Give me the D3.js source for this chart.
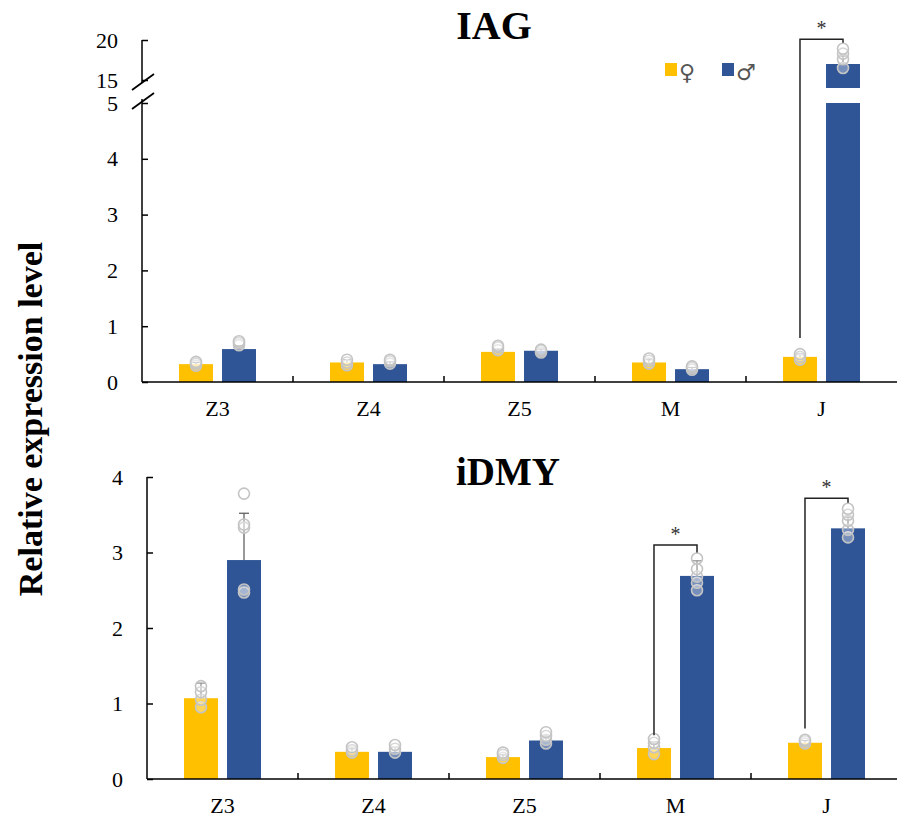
<!DOCTYPE html>
<html>
<head>
<meta charset="utf-8">
<script src="https://cdn.jsdelivr.net/npm/d3@7/dist/d3.min.js"></script>
<style>
  body { margin: 0; background: #fff; }
  svg { display: block; }
</style>
</head>
<body>
<svg id="chart" width="897" height="819"></svg>
<script>
// categories and groups
const categories = ["Z3", "Z4", "Z5", "M", "J"];
const sexes = ["F", "M"];

// IAG (top panel) means, sd and replicate points
const iagFemale = [0.32, 0.35, 0.54, 0.35, 0.45];
const iagMale = [0.59, 0.32, 0.56, 0.23, 17.0];
const iagFemaleSd = [0.03, 0.05, 0.05, 0.05, 0.05];
const iagMaleSd = [0.06, 0.04, 0.03, 0.03, 1.0];
const iagFemalePts = [[0.29, 0.33, 0.36], [0.3, 0.35, 0.4], [0.57, 0.62, 0.65], [0.33, 0.38, 0.42], [0.4, 0.45, 0.5]];
const iagMalePts = [[0.66, 0.7, 0.73], [0.33, 0.37, 0.4], [0.53, 0.56, 0.58], [0.22, 0.25, 0.28], [16.5, 17.6, 18.3, 18.9]];

// iDMY (bottom panel)
const dmyFemale = [1.07, 0.36, 0.29, 0.41, 0.48];
const dmyMale = [2.9, 0.36, 0.51, 2.69, 3.32];
const dmyFemaleSd = [0.2, 0.04, 0.03, 0.08, 0.03];
const dmyMaleSd = [0.62, 0.06, 0.06, 0.2, 0.15];
const dmyFemalePts = [[0.95, 1.05, 1.15, 1.23], [0.35, 0.38, 0.42], [0.28, 0.32, 0.35], [0.33, 0.42, 0.48, 0.53], [0.47, 0.5, 0.52]];
const dmyMalePts = [[2.47, 2.51, 3.33, 3.37, 3.78], [0.35, 0.4, 0.45], [0.47, 0.52, 0.57, 0.62], [2.5, 2.6, 2.68, 2.78, 2.92], [3.2, 3.3, 3.42, 3.5, 3.58]];

// y ticks
const iagLowTicks = [0, 1, 2, 3, 4, 5];
const iagHighTicks = [15, 20];
const dmyTicks = [0, 1, 2, 3, 4];

// significance brackets: category, bracket top, left leg end
const iagSig = [{ cat: "J", top: 20.1, left: 0.79 }];
const dmySig = [{ cat: "M", top: 3.1, left: 0.58 }, { cat: "J", top: 3.72, left: 0.67 }];

const colF = "#FFC000";
const colM = "#2F5597";
const serif = "'Liberation Serif', 'Times New Roman', serif";

const svg = d3.select("#chart");

function xScales(x0) {
  const x = d3.scaleBand().domain(categories).range([x0, x0 + 151 * categories.length]).padding(0);
  const xs = d3.scaleBand().domain(sexes).range([37, 114]).paddingInner(0.21);
  return { x, xs };
}

function drawXAxis(g, x, y0) {
  g.append("line")
    .attr("x1", x.range()[0]).attr("x2", x.range()[1])
    .attr("y1", y0).attr("y2", y0)
    .attr("stroke", "#000").attr("stroke-width", 1.5);
  g.selectAll(".xtick")
    .data(categories.slice(1))
    .enter().append("line")
    .attr("x1", d => x(d)).attr("x2", d => x(d))
    .attr("y1", y0).attr("y2", y0 - 6)
    .attr("stroke", "#000").attr("stroke-width", 1.5);
  g.selectAll(".xlab")
    .data(categories)
    .enter().append("text")
    .text(d => d)
    .attr("x", d => x(d) + x.bandwidth() / 2)
    .attr("y", y0 + 34)
    .attr("text-anchor", "middle")
    .attr("font-family", serif)
    .attr("font-size", 22)
    .attr("fill", "#000");
}

function yAxis(g, y, ticks, axisX) {
  const ax = g.append("g")
    .attr("transform", `translate(${axisX},0)`)
    .call(d3.axisLeft(y).tickValues(ticks).tickFormat(d3.format("d"))
      .tickSize(-6).tickSizeOuter(0).tickPadding(24));
  ax.attr("font-family", serif).attr("font-size", 22);
  ax.select(".domain").remove();
  ax.selectAll("line").attr("stroke", "#000").attr("stroke-width", 1.5);
  ax.selectAll("text").attr("fill", "#000");
}

function drawPoints(g, cx, pts, y) {
  g.selectAll(null)
    .data(pts)
    .enter().append("circle")
    .attr("cx", cx)
    .attr("cy", d => y(d))
    .attr("r", 5.5)
    .attr("fill", "rgba(255,255,255,0.35)")
    .attr("stroke", "#c4c4c4")
    .attr("stroke-width", 1.6);
}

function drawErr(g, cx, mean, sd, y) {
  g.append("line")
    .attr("x1", cx).attr("x2", cx)
    .attr("y1", y(mean)).attr("y2", y(mean + sd))
    .attr("stroke", "#555").attr("stroke-width", 1.2);
  g.append("line")
    .attr("x1", cx - 5).attr("x2", cx + 5)
    .attr("y1", y(mean + sd)).attr("y2", y(mean + sd))
    .attr("stroke", "#555").attr("stroke-width", 1.2);
}

function drawBracket(g, x1, x2, yTop, yLeft, yRight) {
  g.append("path")
    .attr("d", `M${x1},${yLeft}V${yTop}H${x2}V${yRight}`)
    .attr("fill", "none")
    .attr("stroke", "#222")
    .attr("stroke-width", 1.5);
  g.append("text")
    .text("*")
    .attr("x", (x1 + x2) / 2)
    .attr("y", yTop - 4)
    .attr("text-anchor", "middle")
    .attr("font-family", serif)
    .attr("font-size", 20)
    .attr("fill", "#333");
}

// ---------------- top panel: IAG ----------------
{
  const axisX = 142;
  const { x, xs } = xScales(axisX);
  const yLow = d3.scaleLinear().domain([0, 5]).range([382, 103]);
  const yHigh = d3.scaleLinear().domain([15, 20]).range([80, 40]);
  const yAny = v => (v > 5 ? yHigh(v) : yLow(v));
  const g = svg.append("g");

  // bars (male J is split across the break)
  categories.forEach((c, i) => {
    [[iagFemale[i], "F", colF], [iagMale[i], "M", colM]].forEach(([v, s, col]) => {
      const bx = x(c) + xs(s);
      if (v > 5) {
        g.append("rect").attr("x", bx).attr("width", xs.bandwidth())
          .attr("y", yHigh(v)).attr("height", yHigh(14) - yHigh(v)).attr("fill", col);
        g.append("rect").attr("x", bx).attr("width", xs.bandwidth())
          .attr("y", yLow(5)).attr("height", yLow(0) - yLow(5)).attr("fill", col);
      } else {
        g.append("rect").attr("x", bx).attr("width", xs.bandwidth())
          .attr("y", yLow(v)).attr("height", yLow(0) - yLow(v)).attr("fill", col);
      }
    });
  });

  categories.forEach((c, i) => {
    const cf = x(c) + xs("F") + xs.bandwidth() / 2;
    const cm = x(c) + xs("M") + xs.bandwidth() / 2;
    drawErr(g, cf, iagFemale[i], iagFemaleSd[i], yAny);
    drawErr(g, cm, iagMale[i], iagMaleSd[i], yAny);
    drawPoints(g, cf, iagFemalePts[i], yAny);
    drawPoints(g, cm, iagMalePts[i], yAny);
  });

  iagSig.forEach(s => {
    const i = categories.indexOf(s.cat);
    const cf = x(s.cat) + xs("F") + xs.bandwidth() / 2;
    const cm = x(s.cat) + xs("M") + xs.bandwidth() / 2;
    drawBracket(g, cf, cm, yAny(s.top), yAny(s.left), yAny(d3.max(iagMalePts[i])) - 6);
  });

  drawXAxis(g, x, 382);
  yAxis(g, yLow, iagLowTicks, axisX);
  yAxis(g, yHigh, iagHighTicks, axisX);

  // axis line with break
  g.append("line").attr("x1", axisX).attr("x2", axisX).attr("y1", yHigh(20)).attr("y2", 83)
    .attr("stroke", "#000").attr("stroke-width", 1.5);
  g.append("line").attr("x1", axisX).attr("x2", axisX).attr("y1", 99).attr("y2", 382)
    .attr("stroke", "#000").attr("stroke-width", 1.5);
  [82, 101].forEach(yb => {
    g.append("line")
      .attr("x1", axisX - 10).attr("y1", yb + 8)
      .attr("x2", axisX + 12).attr("y2", yb - 8)
      .attr("stroke", "#000").attr("stroke-width", 1.8);
  });

  g.append("text").text("IAG")
    .attr("x", 494).attr("y", 39)
    .attr("text-anchor", "middle")
    .attr("font-family", serif).attr("font-weight", "bold").attr("font-size", 40);

  // legend
  const leg = g.append("g");
  [["F", colF, "\u2640", 665], ["M", colM, "\u2642", 722]].forEach(([s, col, sym, lx]) => {
    leg.append("rect").attr("x", lx).attr("y", 63).attr("width", 12).attr("height", 13).attr("fill", col);
    leg.append("text").text(sym).attr("x", lx + 14).attr("y", 80)
      .attr("font-family", "'DejaVu Sans', sans-serif").attr("font-size", 22).attr("fill", "#555");
  });
}

// ---------------- bottom panel: iDMY ----------------
{
  const axisX = 147;
  const { x, xs } = xScales(axisX);
  const y = d3.scaleLinear().domain([0, 4]).range([779, 477]);
  const g = svg.append("g");

  categories.forEach((c, i) => {
    [[dmyFemale[i], "F", colF], [dmyMale[i], "M", colM]].forEach(([v, s, col]) => {
      g.append("rect")
        .attr("x", x(c) + xs(s)).attr("width", xs.bandwidth())
        .attr("y", y(v)).attr("height", y(0) - y(v)).attr("fill", col);
    });
  });

  categories.forEach((c, i) => {
    const cf = x(c) + xs("F") + xs.bandwidth() / 2;
    const cm = x(c) + xs("M") + xs.bandwidth() / 2;
    drawErr(g, cf, dmyFemale[i], dmyFemaleSd[i], y);
    drawErr(g, cm, dmyMale[i], dmyMaleSd[i], y);
    drawPoints(g, cf, dmyFemalePts[i], y);
    drawPoints(g, cm, dmyMalePts[i], y);
  });

  dmySig.forEach(s => {
    const i = categories.indexOf(s.cat);
    const cf = x(s.cat) + xs("F") + xs.bandwidth() / 2;
    const cm = x(s.cat) + xs("M") + xs.bandwidth() / 2;
    drawBracket(g, cf, cm, y(s.top), y(s.left), y(d3.max(dmyMalePts[i])) - 6);
  });

  drawXAxis(g, x, 779);
  yAxis(g, y, dmyTicks, axisX);
  g.append("line").attr("x1", axisX).attr("x2", axisX).attr("y1", y(4)).attr("y2", y(0))
    .attr("stroke", "#000").attr("stroke-width", 1.5);

  g.append("text").text("iDMY")
    .attr("x", 508).attr("y", 485)
    .attr("text-anchor", "middle")
    .attr("font-family", serif).attr("font-weight", "bold").attr("font-size", 39);
}

// shared y label
svg.append("text")
  .text("Relative expression level")
  .attr("transform", "translate(42,419) rotate(-90)")
  .attr("text-anchor", "middle")
  .attr("font-family", serif)
  .attr("font-weight", "bold")
  .attr("font-size", 34);
</script>
</body>
</html>
